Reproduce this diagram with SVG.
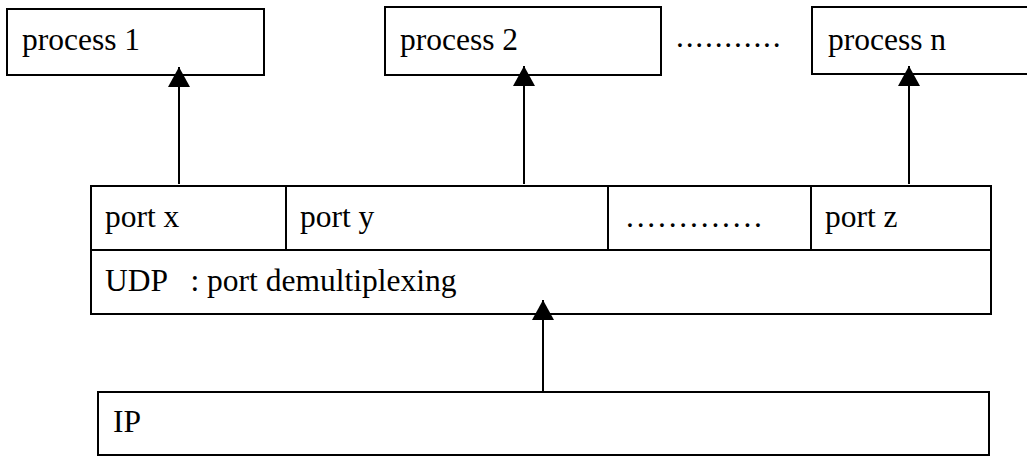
<svg xmlns="http://www.w3.org/2000/svg" width="1027" height="457" viewBox="0 0 1027 457">
  <style>
    .box { fill: #fff; stroke: #000; stroke-width: 2; }
    .rule { stroke: #000; stroke-width: 2; fill: none; }
    .lbl { font-family: "Liberation Serif", "Times New Roman", serif; font-size: 31.5px; fill: #000; }
    .dots { font-family: "Liberation Serif", "Times New Roman", serif; font-size: 31.5px; fill: #000; }
    .wire { stroke: #000; stroke-width: 2; fill: none; }
  </style>
  <defs>
    <marker id="head" viewBox="0 0 20 22" refX="20" refY="11" markerUnits="userSpaceOnUse" markerWidth="20" markerHeight="22" orient="auto">
      <path d="M0,0 L20,11 L0,22 Z" fill="#000"/>
    </marker>
  </defs>
  <rect width="1027" height="457" fill="#fff"/>

  <!-- application processes -->
  <g id="process1">
    <rect class="box" x="7" y="9" width="257" height="66"/>
    <text class="lbl" x="22" y="50">process 1</text>
  </g>
  <g id="process2">
    <rect class="box" x="385" y="7" width="276" height="68"/>
    <text class="lbl" x="400" y="50">process 2</text>
  </g>
  <g id="process-ellipsis">
    <text class="dots" x="676" y="47" letter-spacing="1.8">...........</text>
  </g>
  <g id="processn">
    <rect class="box" x="812" y="7" width="230" height="67"/>
    <text class="lbl" x="828" y="50">process n</text>
  </g>

  <!-- UDP layer with its port table -->
  <g id="udp">
    <rect class="box" x="91" y="186" width="900" height="128"/>
    <line class="rule" x1="91" y1="250" x2="991" y2="250"/>
    <line class="rule" x1="286" y1="186" x2="286" y2="250"/>
    <line class="rule" x1="608" y1="186" x2="608" y2="250"/>
    <line class="rule" x1="811" y1="186" x2="811" y2="250"/>
    <text class="lbl" x="105" y="227">port x</text>
    <text class="lbl" x="300" y="227">port y</text>
    <text class="dots" x="626" y="227" letter-spacing="2.8">.............</text>
    <text class="lbl" x="825" y="227">port z</text>
    <text class="lbl" x="105" y="291" xml:space="preserve">UDP   : port demultiplexing</text>
  </g>

  <!-- IP layer -->
  <g id="ip">
    <rect class="box" x="98" y="392" width="891" height="63"/>
    <text class="lbl" x="113" y="432">IP</text>
  </g>

  <!-- upward delivery paths -->
  <g id="connectors">
    <line class="wire" x1="179" y1="184" x2="179" y2="67" marker-end="url(#head)"/>
    <line class="wire" x1="524" y1="184" x2="524" y2="66" marker-end="url(#head)"/>
    <line class="wire" x1="909" y1="184" x2="909" y2="66" marker-end="url(#head)"/>
    <line class="wire" x1="543" y1="392" x2="543" y2="300" marker-end="url(#head)"/>
  </g>
</svg>
